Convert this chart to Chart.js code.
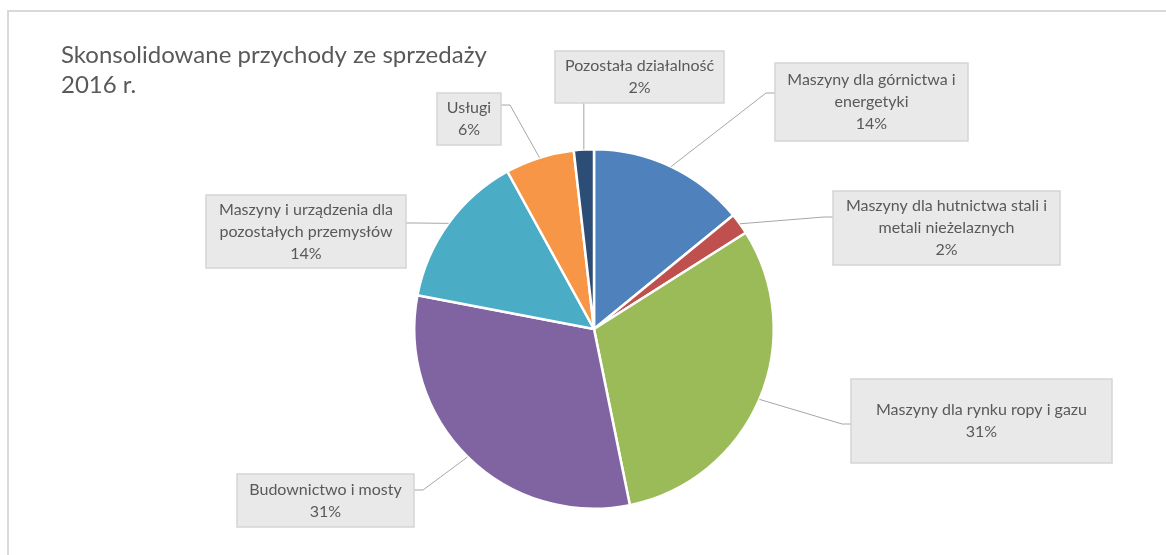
<!DOCTYPE html>
<html>
<head>
<meta charset="utf-8">
<script src="https://cdn.jsdelivr.net/npm/chart.js@4.4.1/dist/chart.umd.min.js"></script>
<style>
  html, body { margin: 0; padding: 0; background: #fff; }
  #wrap { position: relative; width: 1166px; height: 555px; }
  #frame { position: absolute; left: 7px; top: 10px; right: -5px; bottom: -5px;
           border-top: 2px solid #d9d9d9; border-left: 2px solid #d9d9d9; }
  #pie { position: absolute; left: 0; top: 0; }
</style>
</head>
<body>
<div id="wrap">
  <div id="frame"></div>
  <canvas id="pie" width="1166" height="555"></canvas>
</div>
<script>
// Data (share of revenue, %)
const categories = [
  'Maszyny dla górnictwa i energetyki',
  'Maszyny dla hutnictwa stali i metali nieżelaznych',
  'Maszyny dla rynku ropy i gazu',
  'Budownictwo i mosty',
  'Maszyny i urządzenia dla pozostałych przemysłów',
  'Usługi',
  'Pozostała działalność'
];
const shares = [14.1, 1.9, 30.8, 31.2, 14.0, 6.2, 1.8];
const sliceColors = ['#4F81BD', '#C0504D', '#9BBB59', '#8064A2', '#4BACC6', '#F79646', '#2C4D75'];
const titleLines = ['Skonsolidowane przychody ze sprzedaży', '2016 r.'];

// Where the label boxes sit (layout only)
const labelBoxes = [
  { x: 775, y: 63,  w: 193, h: 78, side: 'left', attach: 30 },
  { x: 833, y: 191, w: 227, h: 74, side: 'left', attach: 26 },
  { x: 851, y: 379, w: 261, h: 84, side: 'left', attach: 45 },
  { x: 237, y: 474, w: 177, h: 53, side: 'right', attach: 16 },
  { x: 206, y: 195, w: 200, h: 73, side: 'right', attach: 28 },
  { x: 437, y: 93,  w: 64,  h: 52, side: 'right', attach: 12 },
  { x: 555, y: 51,  w: 169, h: 52, side: 'bottom' }
];

const FONT = 'Lato, "Noto Sans", sans-serif';
const TEXT_COLOR = '#595959';

function wrapText(ctx, text, maxWidth) {
  const words = text.split(' ');
  const lines = [];
  let line = '';
  words.forEach(w => {
    const test = line ? line + ' ' + w : w;
    if (ctx.measureText(test).width > maxWidth && line) {
      lines.push(line);
      line = w;
    } else {
      line = test;
    }
  });
  if (line) lines.push(line);
  return lines;
}

const calloutPlugin = {
  id: 'callouts',
  afterDatasetsDraw(chart) {
    const ctx = chart.ctx;
    const meta = chart.getDatasetMeta(0);
    const total = shares.reduce((a, b) => a + b, 0);

    // title
    ctx.save();
    ctx.fillStyle = TEXT_COLOR;
    ctx.font = '24px ' + FONT;
    ctx.textAlign = 'left';
    ctx.textBaseline = 'alphabetic';
    titleLines.forEach((t, i) => ctx.fillText(t, 61, 63 + i * 30));
    ctx.restore();

    meta.data.forEach((arc, i) => {
      const p = arc.getProps(['x', 'y', 'startAngle', 'endAngle', 'outerRadius'], true);
      const mid = (p.startAngle + p.endAngle) / 2;
      const ax = p.x + Math.cos(mid) * p.outerRadius;
      const ay = p.y + Math.sin(mid) * p.outerRadius;
      const b = labelBoxes[i];

      // leader line
      let ex, ey, kx, ky;
      if (b.side === 'left') { ex = b.x; ey = b.y + b.attach; kx = ex - 9; ky = ey; }
      else if (b.side === 'right') { ex = b.x + b.w; ey = b.y + b.attach; kx = ex + 9; ky = ey; }
      else { ex = ax; ey = b.y + b.h; kx = ex; ky = ey; }
      ctx.save();
      ctx.strokeStyle = '#A6A6A6';
      ctx.lineWidth = 1;
      ctx.beginPath();
      ctx.moveTo(ax, ay);
      ctx.lineTo(kx, ky);
      ctx.lineTo(ex, ey);
      ctx.stroke();

      // box
      ctx.fillStyle = '#E9E9E9';
      ctx.fillRect(b.x, b.y, b.w, b.h);
      ctx.strokeStyle = '#D5D5D5';
      ctx.lineWidth = 1.5;
      ctx.strokeRect(b.x, b.y, b.w, b.h);

      // text
      ctx.font = '16px ' + FONT;
      ctx.fillStyle = TEXT_COLOR;
      ctx.textAlign = 'center';
      ctx.textBaseline = 'middle';
      const lines = wrapText(ctx, categories[i], b.w - 8);
      lines.push(Math.round(shares[i] / total * 100) + '%');
      const lh = 22;
      const top = b.y + b.h / 2 - (lines.length - 1) * lh / 2;
      lines.forEach((l, j) => ctx.fillText(l, b.x + b.w / 2, top + j * lh));
      ctx.restore();
    });
  }
};

new Chart(document.getElementById('pie').getContext('2d'), {
  type: 'pie',
  data: {
    labels: categories,
    datasets: [{
      data: shares,
      backgroundColor: sliceColors,
      borderColor: '#ffffff',
      borderWidth: 2.5
    }]
  },
  options: {
    responsive: false,
    animation: false,
    layout: { padding: { left: 412, right: 390, top: 148, bottom: 45 } },
    plugins: {
      legend: { display: false },
      tooltip: { enabled: false }
    }
  },
  plugins: [calloutPlugin]
});
</script>
</body>
</html>
